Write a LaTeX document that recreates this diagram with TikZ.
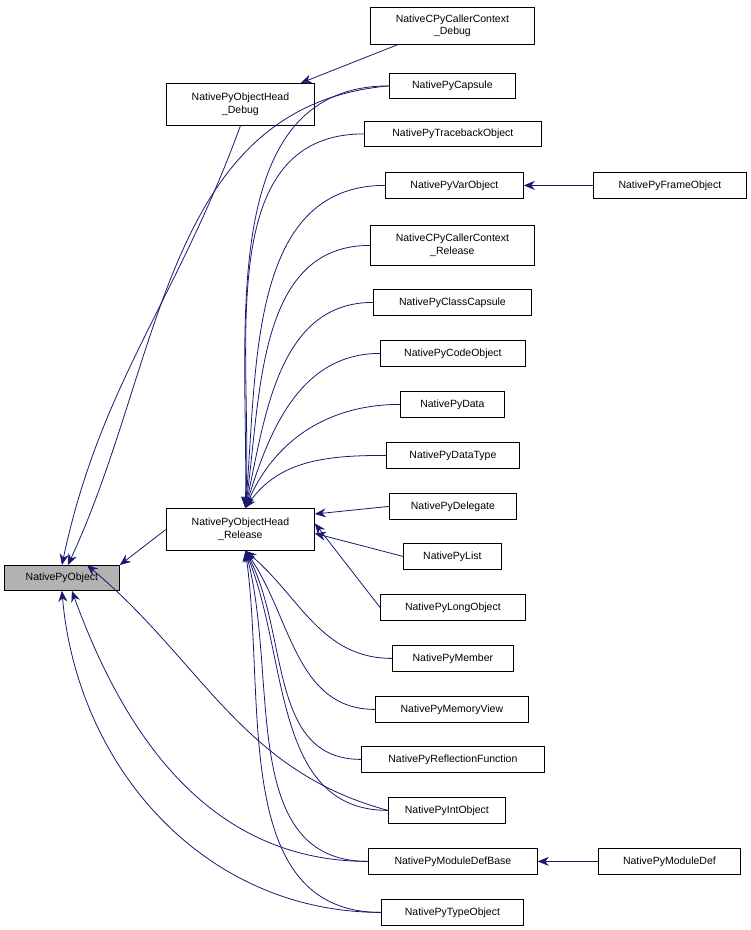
\documentclass[tikz,border=0pt]{standalone}
\usepackage{fontspec}
\setmainfont{Liberation Sans}
\usetikzlibrary{arrows.meta}
\definecolor{navy}{HTML}{191970}
\begin{document}
\begin{tikzpicture}[x=1pt,y=-1pt,
 box/.style={draw=black,line width=0.8pt,fill=white,inner sep=0pt,font=\fontsize{10.5}{12.5}\selectfont,align=center,anchor=north west},
 e/.style={draw=navy,line width=0.8pt,{Stealth[length=11pt,width=9pt]}-}]
\useasboundingbox (0,0) rectangle (751,930);
\newcommand{\bx}[6]{\node[box,minimum width=#4-#2,minimum height=#5-#3] (#1) at (#2,#3) {#6};}
\bx{obj}{4}{565}{119}{590}{}
\fill[gray!60] (obj.north west) rectangle (obj.south east);
\draw[line width=0.8pt] (obj.north west) rectangle (obj.south east);
\node[font=\fontsize{10.5}{12.5}\selectfont] at (obj.center) {NativePyObject};
\bx{dbg}{166}{83}{314}{125}{NativePyObjectHead\\\_Debug}
\bx{rel}{166}{508}{314}{550}{NativePyObjectHead\\\_Release}
\bx{ccd}{370}{7}{534}{44}{NativeCPyCallerContext\\\_Debug}
\bx{cap}{389}{73}{515}{98}{NativePyCapsule}
\bx{tb}{364}{121}{541}{146}{NativePyTracebackObject}
\bx{var}{385}{172}{523}{198}{NativePyVarObject}
\bx{frm}{593}{172}{746}{198}{NativePyFrameObject}
\bx{ccr}{370}{225}{534}{265}{NativeCPyCallerContext\\\_Release}
\bx{cc}{373}{289}{531}{315}{NativePyClassCapsule}
\bx{code}{380}{340}{525}{366}{NativePyCodeObject}
\bx{data}{400}{391}{504}{417}{NativePyData}
\bx{dt}{386}{442}{519}{468}{NativePyDataType}
\bx{del}{389}{493}{516}{519}{NativePyDelegate}
\bx{lst}{403}{543}{501}{569}{NativePyList}
\bx{lng}{380}{594}{525}{620}{NativePyLongObject}
\bx{mem}{392}{645}{513}{671}{NativePyMember}
\bx{mv}{375}{696}{528}{722}{NativePyMemoryView}
\bx{rf}{361}{746}{544}{772}{NativePyReflectionFunction}
\bx{int}{388}{797}{505}{823}{NativePyIntObject}
\bx{mdb}{368}{848}{537}{874}{NativePyModuleDefBase}
\bx{md}{598}{848}{740}{874}{NativePyModuleDef}
\bx{typ}{381}{899}{523}{925}{NativePyTypeObject}
% edges to NativePyObject
\draw[e] (obj.north) to[out=78,in=250] (dbg.south);
\draw[e] (obj.north east) -- (rel.west);
\draw[e] ([xshift=6]obj.north) to[out=65,in=185] (cap.west);
\draw[e] ([xshift=25]obj.north) to[out=-40,in=165] (int.west);
\draw[e] ([xshift=10]obj.south) to[out=-70,in=180] (mdb.west);
\draw[e] (obj.south) to[out=-85,in=180] (typ.west);
\draw[e] ([xshift=-14]dbg.north east) -- ([xshift=-55]ccd.south);
\draw[e] (var.east) -- (frm.west);
\draw[e] (mdb.east) -- (md.west);
% edges to Release
\foreach \n/\o in {cap/89,tb/87,var/85,ccr/82,cc/78,code/73,data/67,dt/55}
  \draw[e] ([xshift=5]rel.north) to[out=\o,in=180] (\n.west);
\draw[e] ([yshift=-6]rel.north east) -- (del.west);
\draw[e] ([yshift=-4]rel.east) -- (lst.west);
\draw[e] ([yshift=6]rel.east) -- (lng.west);
\foreach \n/\o in {mem/-40,mv/-55,rf/-62,int/-68,mdb/-75,typ/-82}
  \draw[e] ([xshift=5]rel.south) to[out=\o,in=180] (\n.west);
\end{tikzpicture}
\end{document}
